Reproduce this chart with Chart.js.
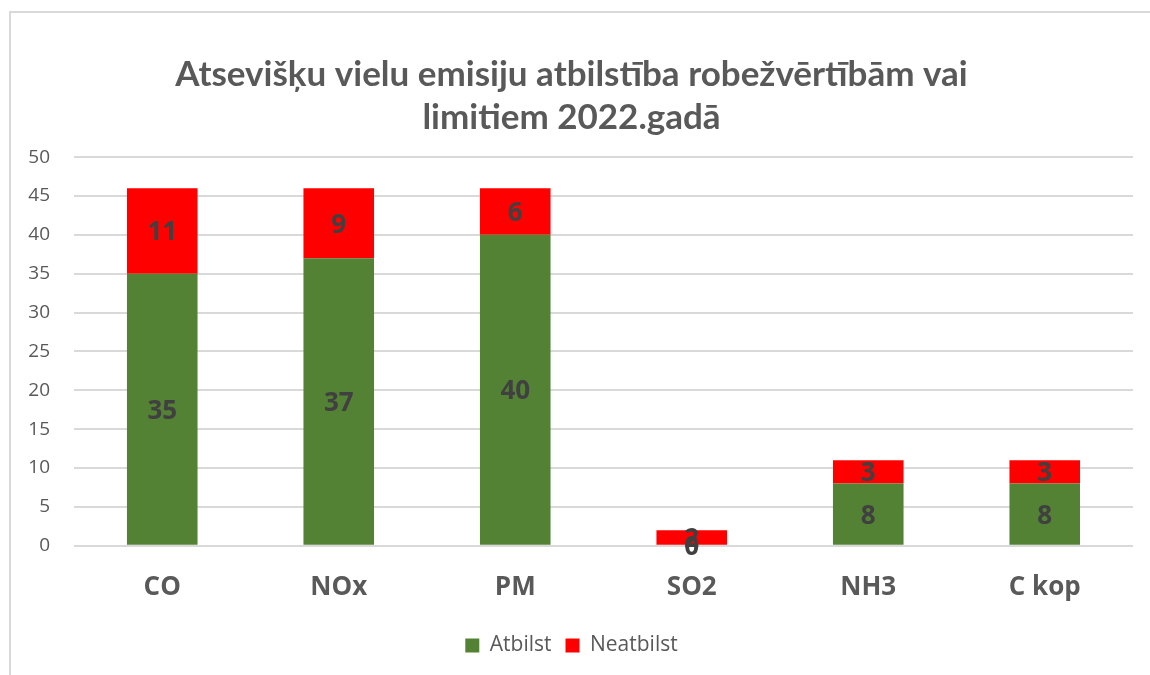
<!DOCTYPE html>
<html>
<head>
<meta charset="utf-8">
<script src="https://cdn.jsdelivr.net/npm/chart.js@4"></script>
<style>
  body { margin: 0; background: #fff; }
  #frame { position: absolute; left: 9px; top: 11px; width: 1200px; height: 700px;
           border-left: 2px solid #d9d9d9; border-top: 2px solid #d9d9d9; }
  #wrap { position: absolute; left: 0; top: 0; width: 1150px; height: 675px; }
</style>
</head>
<body>
<div id="frame"></div>
<div id="wrap"><canvas id="emisChart" width="1150" height="675"></canvas></div>
<script>
const categories = ['CO', 'NOx', 'PM', 'SO2', 'NH3', 'C kop'];
const atbilst = [35, 37, 40, 0, 8, 8];
const neatbilst = [11, 9, 6, 2, 3, 3];
const yTicks = [0, 5, 10, 15, 20, 25, 30, 35, 40, 45, 50];

// draw the value in the middle of every bar segment
const barValues = {
  id: 'barValues',
  afterDatasetsDraw(chart) {
    const ctx = chart.ctx;
    ctx.save();
    ctx.font = 'bold 26px "Open Sans", sans-serif';
    ctx.fillStyle = '#404040';
    ctx.textAlign = 'center';
    ctx.textBaseline = 'middle';
    chart.data.datasets.forEach((ds, i) => {
      chart.getDatasetMeta(i).data.forEach((bar, j) => {
        const mid = (bar.y + bar.base) / 2;
        ctx.fillText(ds.data[j], bar.x, mid + 2);
      });
    });
    ctx.restore();
  }
};

const ctx = document.getElementById('emisChart').getContext('2d');
new Chart(ctx, {
  type: 'bar',
  data: {
    labels: categories,
    datasets: [
      { label: 'Atbilst', data: atbilst, backgroundColor: '#548235' },
      { label: 'Neatbilst', data: neatbilst, backgroundColor: '#FF0000' }
    ]
  },
  options: {
    responsive: false,
    animation: false,
    layout: { padding: { left: 10, right: 17, top: 53, bottom: 9 } },
    datasets: { bar: { categoryPercentage: 1, barPercentage: 0.4 } },
    plugins: {
      title: {
        display: true,
        text: ['Atsevišķu vielu emisiju atbilstība robežvērtībām vai', 'limitiem 2022.gadā'],
        color: '#595959',
        font: { family: 'Lato', size: 35, weight: 'bold', lineHeight: 1.23 },
        padding: { top: 0, bottom: 18 }
      },
      legend: {
        position: 'bottom',
        labels: {
          color: '#595959',
          font: { family: '"Open Sans"', size: 21 },
          boxWidth: 14,
          boxHeight: 14,
          padding: 14
        }
      },
      tooltip: { enabled: false }
    },
    scales: {
      x: {
        stacked: true,
        grid: { display: false },
        border: { display: false },
        ticks: {
          color: '#595959',
          font: { family: '"Open Sans"', size: 26, weight: 'bold' },
          padding: 18
        }
      },
      y: {
        stacked: true,
        min: 0,
        max: 50,
        afterBuildTicks: axis => { axis.ticks = yTicks.map(v => ({ value: v })); },
        afterFit: axis => { axis.width = 64; },
        grid: { color: '#d9d9d9', lineWidth: 2, drawTicks: false },
        border: { display: false },
        ticks: {
          color: '#595959',
          font: { family: '"Open Sans"', size: 19 },
          padding: 24
        }
      }
    }
  },
  plugins: [barValues]
});
</script>
</body>
</html>
